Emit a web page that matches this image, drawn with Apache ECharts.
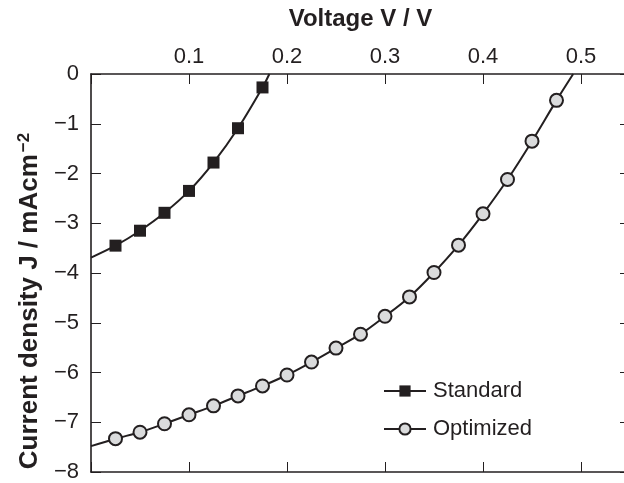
<!DOCTYPE html>
<html>
<head>
<meta charset="utf-8">
<script src="https://cdn.jsdelivr.net/npm/echarts@6/dist/echarts.min.js"></script>
<style>
html,body{margin:0;padding:0;background:#fff;overflow:hidden;width:624px;height:483px;}
#chart{width:640px;height:483px;}
</style>
</head>
<body>
<div id="chart"></div>
<script>
// ---- data ----
var standardV = [0.025, 0.05, 0.075, 0.1, 0.125, 0.15, 0.175];
var standardJ = [-3.45, -3.15, -2.79, -2.35, -1.78, -1.09, -0.27];
var standardCurveStart = [0, -3.69];
var standardCurveEnd = [0.182, 0];

var optimizedV = [0.025, 0.05, 0.075, 0.1, 0.125, 0.15, 0.175, 0.2, 0.225, 0.25, 0.275, 0.3, 0.325, 0.35, 0.375, 0.4, 0.425, 0.45, 0.475];
var optimizedJ = [-7.33, -7.20, -7.03, -6.85, -6.67, -6.47, -6.27, -6.05, -5.79, -5.51, -5.23, -4.87, -4.48, -3.99, -3.44, -2.81, -2.12, -1.35, -0.53];
var optimizedCurveStart = [0, -7.48];
var optimizedCurveEnd = [0.492, 0];

var xTicks = [0.1, 0.2, 0.3, 0.4, 0.5];
var yTicks = [0, -1, -2, -3, -4, -5, -6, -7, -8];

var seriesNames = ['Standard', 'Optimized'];

// ---- build ----
var ink = '#231f20';
function buildSeriesData(vs, js, start, end) {
  var d = [{value: start, symbol: 'none'}];
  for (var i = 0; i < vs.length; i++) d.push([vs[i], js[i]]);
  d.push({value: end, symbol: 'none'});
  return d;
}
function isXTick(v) {
  for (var i = 0; i < xTicks.length; i++) if (Math.abs(xTicks[i] - v) < 1e-9) return true;
  return false;
}
var fontFam = 'Liberation Sans, Arial, Helvetica, sans-serif';

var chart = echarts.init(document.getElementById('chart'), null, {renderer: 'canvas'});
var axisLineStyle = {color: ink, width: 1.6};
var tickStyle = {color: ink, width: 1};

chart.setOption({
  animation: false,
  backgroundColor: '#ffffff',
  textStyle: {fontFamily: fontFam},
  grid: {left: 91, right: 10, top: 74, bottom: 7, containLabel: false},
  legend: {
    orient: 'vertical',
    left: 378,
    top: 375,
    itemWidth: 42,
    itemHeight: 14,
    itemGap: 16,
    data: seriesNames,
    textStyle: {color: ink, fontSize: 22, fontFamily: fontFam, padding: [0, 0, 0, 2]}
  },
  xAxis: [{
    type: 'value',
    position: 'top',
    min: 0, max: 0.55, interval: 0.1,
    name: 'Voltage V / V',
    nameLocation: 'middle',
    nameGap: 43,
    nameTextStyle: {color: ink, fontSize: 24, fontWeight: 'bold', fontFamily: fontFam},
    axisLine: {show: true, onZero: false, lineStyle: axisLineStyle},
    axisTick: {show: true, inside: true, length: 10, lineStyle: tickStyle},
    axisLabel: {
      color: ink, fontSize: 22, margin: 6, fontFamily: fontFam,
      formatter: function (v) { return isXTick(v) ? v.toFixed(1) : ''; }
    },
    splitLine: {show: false}
  }, {
    type: 'value',
    position: 'bottom',
    min: 0, max: 0.55, interval: 0.1,
    axisLine: {show: true, onZero: false, lineStyle: axisLineStyle},
    axisTick: {show: true, inside: true, length: 10, lineStyle: tickStyle},
    axisLabel: {show: false},
    splitLine: {show: false}
  }],
  yAxis: [{
    type: 'value',
    position: 'left',
    min: -8, max: 0, interval: 1,
    name: 'Current density J / mAcm{sup|\u22122}',
    nameLocation: 'middle',
    nameRotate: 90,
    nameGap: 48,
    nameTextStyle: {
      color: ink, fontSize: 26, fontWeight: 'bold', fontFamily: fontFam,
      padding: [0, 56, 0, 0],
      rich: {sup: {fontSize: 17, fontWeight: 'bold', color: ink, fontFamily: fontFam, verticalAlign: 'top', padding: [0, 0, 10, 2]}}
    },
    axisLine: {show: true, onZero: false, lineStyle: axisLineStyle},
    axisTick: {show: true, inside: true, length: 10, lineStyle: tickStyle},
    axisLabel: {
      color: ink, fontSize: 22, margin: 12, fontFamily: fontFam,
      formatter: function (v) { return v < 0 ? '\u2212' + Math.abs(v) : String(v); }
    },
    splitLine: {show: false}
  }, {
    type: 'value',
    position: 'right',
    min: -8, max: 0, interval: 1,
    axisLine: {show: true, onZero: false, lineStyle: axisLineStyle},
    axisTick: {show: true, inside: true, length: 10, lineStyle: tickStyle},
    axisLabel: {show: false},
    splitLine: {show: false}
  }],
  series: [{
    name: seriesNames[0],
    type: 'line',
    xAxisIndex: 0, yAxisIndex: 0,
    smooth: 0.3,
    symbol: 'rect',
    symbolSize: 12,
    showAllSymbol: true,
    lineStyle: {color: ink, width: 2},
    itemStyle: {color: ink, borderColor: ink, borderWidth: 0},
    data: buildSeriesData(standardV, standardJ, standardCurveStart, standardCurveEnd),
    z: 3
  }, {
    name: seriesNames[1],
    type: 'line',
    xAxisIndex: 0, yAxisIndex: 0,
    smooth: 0.3,
    symbol: 'circle',
    symbolSize: 13,
    showAllSymbol: true,
    lineStyle: {color: ink, width: 2},
    itemStyle: {color: '#dadbdc', borderColor: ink, borderWidth: 2},
    data: buildSeriesData(optimizedV, optimizedJ, optimizedCurveStart, optimizedCurveEnd),
    z: 3
  }]
});
</script>
</body>
</html>
